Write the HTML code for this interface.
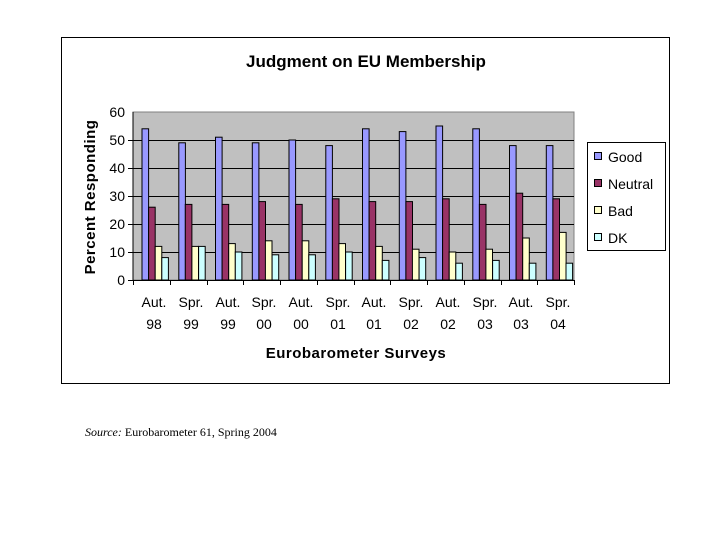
<!DOCTYPE html>
<html><head><meta charset="utf-8"><style>
html,body{margin:0;padding:0;background:#fff;}
svg{display:block;}
</style></head><body>
<svg id="s" width="720" height="540" xmlns="http://www.w3.org/2000/svg" font-family="Liberation Sans, Arial, sans-serif">
<rect x="61.5" y="37.5" width="608" height="346" fill="#fff" stroke="#000" stroke-width="1"/>
<text x="366" y="67" font-size="17" font-weight="bold" text-anchor="middle">Judgment on EU Membership</text>
<rect x="133" y="112" width="441" height="168" fill="#c0c0c0" stroke="#808080" stroke-width="1"/>
<g id="grid" stroke="#000" stroke-width="1"></g>
<g id="bars" stroke="#000" stroke-width="1"></g>
<line x1="133" y1="112" x2="133" y2="280" stroke="#000"/>
<line x1="133" y1="280.5" x2="574" y2="280.5" stroke="#000"/>
<g font-size="14" text-anchor="end">
<text x="125" y="117">60</text><text x="125" y="145">50</text><text x="125" y="173">40</text>
<text x="125" y="201">30</text><text x="125" y="229">20</text><text x="125" y="257">10</text><text x="125" y="285">0</text>
</g>
<text transform="translate(95,197) rotate(-90)" font-size="15" font-weight="bold" text-anchor="middle" letter-spacing="0.5">Percent Responding</text>
<g font-size="14" text-anchor="middle" id="xl">
<text x="154" y="307">Aut.</text><text x="154" y="329">98</text>
<text x="191" y="307">Spr.</text><text x="191" y="329">99</text>
<text x="228" y="307">Aut.</text><text x="228" y="329">99</text>
<text x="264" y="307">Spr.</text><text x="264" y="329">00</text>
<text x="301" y="307">Aut.</text><text x="301" y="329">00</text>
<text x="338" y="307">Spr.</text><text x="338" y="329">01</text>
<text x="374" y="307">Aut.</text><text x="374" y="329">01</text>
<text x="411" y="307">Spr.</text><text x="411" y="329">02</text>
<text x="448" y="307">Aut.</text><text x="448" y="329">02</text>
<text x="485" y="307">Spr.</text><text x="485" y="329">03</text>
<text x="521" y="307">Aut.</text><text x="521" y="329">03</text>
<text x="558" y="307">Spr.</text><text x="558" y="329">04</text>
</g>
<text x="356" y="358" font-size="15" font-weight="bold" text-anchor="middle" letter-spacing="0.5">Eurobarometer Surveys</text>
<rect x="587.5" y="142.5" width="78" height="108" fill="#fff" stroke="#000"/>
<g stroke="#000" stroke-width="1">
<rect x="594.5" y="152.5" width="7" height="7" fill="#9999ff"/>
<rect x="594.5" y="179.5" width="7" height="7" fill="#993366"/>
<rect x="594.5" y="206.5" width="7" height="7" fill="#ffffcc"/>
<rect x="594.5" y="233.5" width="7" height="7" fill="#ccffff"/>
</g>
<g font-size="14">
<text x="608" y="162">Good</text><text x="608" y="189">Neutral</text>
<text x="608" y="216">Bad</text><text x="608" y="243">DK</text>
</g>
<text x="85" y="436" font-family="Liberation Serif, serif" font-size="12"><tspan font-style="italic">Source:</tspan> Eurobarometer 61, Spring 2004</text>
</svg>
<script>
var ns="http://www.w3.org/2000/svg";
var g=document.getElementById("grid"),b=document.getElementById("bars");
for(var i=1;i<6;i++){var y=280-i*28+0.5;var l=document.createElementNS(ns,"line");l.setAttribute("x1",133);l.setAttribute("x2",574);l.setAttribute("y1",y);l.setAttribute("y2",y);g.appendChild(l);}
for(var i=0;i<=12;i++){var x=Math.round(133+i*36.75)+0.5;var l=document.createElementNS(ns,"line");l.setAttribute("x1",x);l.setAttribute("x2",x);l.setAttribute("y1",280);l.setAttribute("y2",285);l.setAttribute("stroke","#000");g.appendChild(l);}
for(var i=0;i<6;i++){var y=280-i*28+0.5;var l=document.createElementNS(ns,"line");l.setAttribute("x1",128);l.setAttribute("x2",133);l.setAttribute("y1",y);l.setAttribute("y2",y);g.appendChild(l);}
var d=[[54,49,51,49,50,48,54,53,55,54,48,48],[26,27,27,28,27,29,28,28,29,27,31,29],[12,12,13,14,14,13,12,11,10,11,15,17],[8,12,10,9,9,10,7,8,6,7,6,6]];
var c=["#9999ff","#993366","#ffffcc","#ccffff"];
for(var k=0;k<12;k++){for(var s=0;s<4;s++){var x=133+k*36.75+9+s*6.6;var h=d[s][k]*2.8;var r=document.createElementNS(ns,"rect");r.setAttribute("x",x.toFixed(1));r.setAttribute("y",(280-h).toFixed(1));r.setAttribute("width",6.6);r.setAttribute("height",h.toFixed(1));r.setAttribute("fill",c[s]);b.appendChild(r);}}
</script>
</body></html>
